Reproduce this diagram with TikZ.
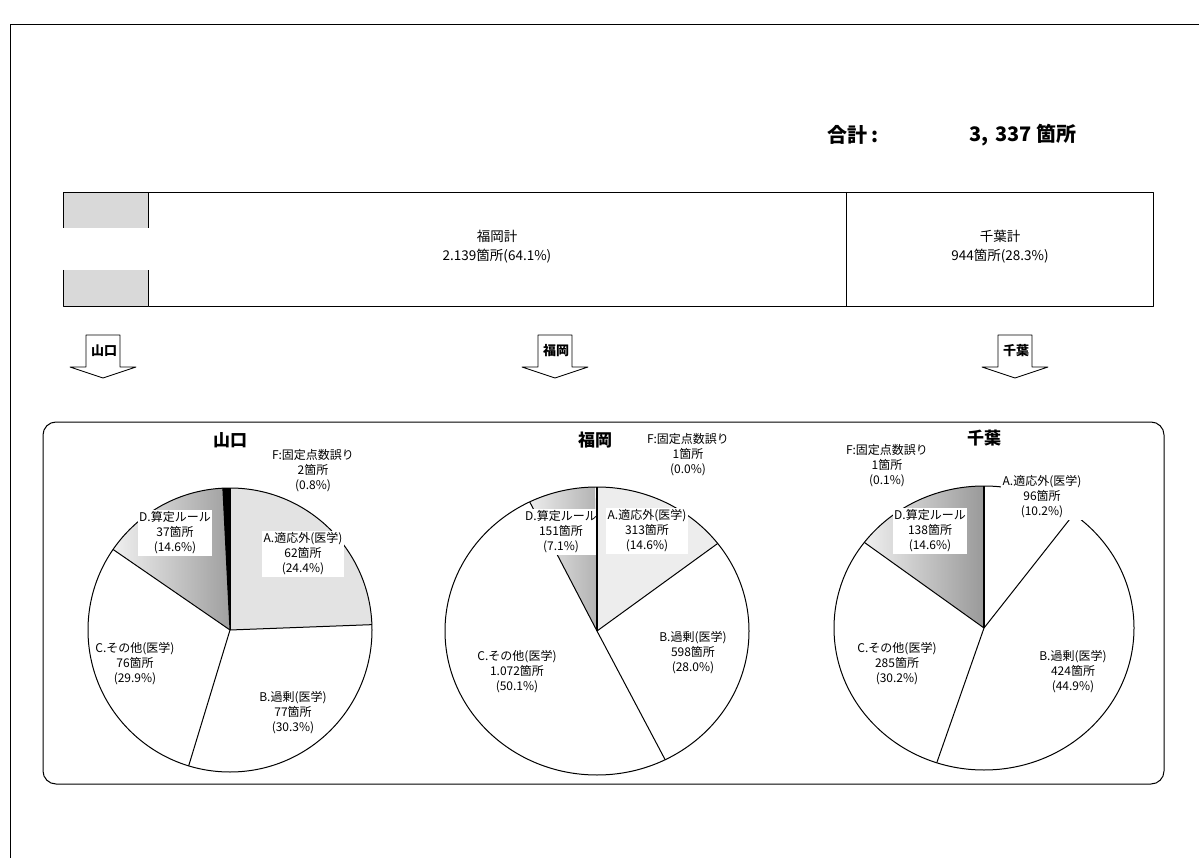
\documentclass[tikz,border=0pt]{standalone}
\usepackage{fontspec}
\setmainfont{Noto Sans CJK JP}
\begin{document}
\begin{tikzpicture}[x=1pt,y=-1pt,line join=round,
  lbl/.style={font=\fontsize{12}{15}\selectfont, align=center, inner sep=1.5pt},
  lblw/.style={lbl, fill=white},
  barlbl/.style={font=\fontsize{13.5}{19}\selectfont, align=center, inner sep=1pt},
  ttl/.style={font=\fontsize{17}{19}\selectfont\bfseries, inner sep=1pt},
  arrlbl/.style={font=\fontsize{13}{15}\selectfont\bfseries, inner sep=1pt},
  pieline/.style={draw=black, line width=1pt},
  blockarrow/.style={draw=black, line width=0.8pt, fill=white},
  totfont/.style={font=\fontsize{20}{22}\selectfont\bfseries, inner sep=1pt}
]
\useasboundingbox (0,0) rectangle (1199,858);
% outer frame
\draw[line width=0.8pt] (10,858) -- (10,24) -- (1199,24);

% total
\node[totfont, anchor=west] (totlbl) at (826,135) {合計 :};
\node[totfont, anchor=west] (totval) at (968,135) {3,\,\,337 箇所};

% bar
\fill[gray!30] (63,192) rectangle (148,228);
\fill[gray!30] (63,270) rectangle (148,306);
\draw[line width=0.9pt] (148,228) -- (148,192) -- (1153,192) -- (1153,306) -- (148,306) -- (148,270);
\draw[line width=0.9pt] (63,228) -- (63,192) -- (148,192);
\draw[line width=0.9pt] (63,270) -- (63,306) -- (148,306);
\draw[line width=0.9pt] (846,192) -- (846,306);
\node[barlbl] (fkbar) at (497,247) {福岡計\\2.139箇所(64.1\%)};
\node[barlbl] (cbbar) at (1000,247) {千葉計\\944箇所(28.3\%)};

% block arrows
\foreach \cx/\t/\n in {103/山口/ay,555/福岡/af,1015/千葉/ac}{
  \draw[blockarrow] (\cx-17,335) -- (\cx+17,335) -- (\cx+17,367) -- (\cx+33,367)
     -- (\cx,378) -- (\cx-33,367) -- (\cx-17,367) -- cycle;
  \node[arrlbl] (\n) at (\cx+1,351) {\t};
}

% container
\draw[line width=1pt, rounded corners=13pt] (43,422) rectangle (1164,784);

% ---------- Yamaguchi pie ----------
\begin{scope}[shift={(230,630)}, y=1pt]
  \fill[gray!22] (0,0) -- (90:142) arc[start angle=90, end angle=2.16, radius=142] -- cycle;
  \shade[left color=gray!12, right color=gray!75] (0,0) -- (145.44:142) arc[start angle=145.44, end angle=92.88, radius=142] -- cycle;
  \fill[black] (0,0) -- (92.88:142) arc[start angle=92.88, end angle=90, radius=142] -- cycle;
  \draw[pieline] (0,0) circle[radius=142];
  \foreach \a in {90,2.16,-106.92,145.44,92.88} \draw[pieline] (0,0) -- (\a:142);
\end{scope}
\node[ttl] (ty) at (230,440) {山口};
\node[lbl] (yF) at (313,471) {F:固定点数誤り\\2箇所\\(0.8\%)};
\node[lblw] (yD) at (175,533) {D.算定ルール\\37箇所\\(14.6\%)};
\node[lblw] (yA) at (303,554) {A.適応外(医学)\\62箇所\\(24.4\%)};
\node[lbl] (yC) at (135,664) {C.その他(医学)\\76箇所\\(29.9\%)};
\node[lbl] (yB) at (293,713) {B.過剰(医学)\\77箇所\\(30.3\%)};

% ---------- Fukuoka pie ----------
\begin{scope}[shift={(597,631)}, y=1pt]
  \fill[gray!14] (0,0) -- (90:152 and 144) arc[start angle=90, end angle=37.44, x radius=152, y radius=144] -- cycle;
  \shade[left color=gray!15, right color=gray!60] (0,0) -- (116.28:152 and 144) arc[start angle=116.28, end angle=90.72, x radius=152, y radius=144] -- cycle;
  \draw[pieline] (0,0) ellipse[x radius=152, y radius=144];
  \foreach \a in {37.44,-63.36,116.28} \draw[pieline] (0,0) -- (\a:152 and 144);
\end{scope}
\node[ttl] (tf) at (595,440) {福岡};
\node[lbl] (fF) at (688,455) {F:固定点数誤り\\1箇所\\(0.0\%)};
\node[lblw] (fD) at (561,532) {D.算定ルール\\151箇所\\(7.1\%)};
\node[lblw] (fA) at (647,531) {A.適応外(医学)\\313箇所\\(14.6\%)};
\node[lbl] (fB) at (693,653) {B.過剰(医学)\\598箇所\\(28.0\%)};
\node[lbl] (fC) at (517,672) {C.その他(医学)\\1.072箇所\\(50.1\%)};
\begin{scope}[shift={(597,631)}, y=1pt]
  \draw[black, line width=2.6pt] (0,0) -- (90:152 and 144);
\end{scope}

% ---------- Chiba pie ----------
\begin{scope}[shift={(984,628)}, y=1pt]
  \shade[left color=gray!12, right color=gray!80] (0,0) -- (142.92:150 and 142) arc[start angle=142.92, end angle=90.36, x radius=150, y radius=142] -- cycle;
  \draw[pieline] (0,0) ellipse[x radius=150, y radius=142];
  \foreach \a in {53.28,-108.36,142.92} \draw[pieline] (0,0) -- (\a:150 and 142);
  \draw[black, line width=2.6pt] (0,0) -- (90:150 and 142);
\end{scope}
\node[ttl] (tc) at (984,438) {千葉};
\node[lbl] (cF) at (887,466) {F:固定点数誤り\\1箇所\\(0.1\%)};
\node[lblw] (cA) at (1042,497) {A.適応外(医学)\\96箇所\\(10.2\%)};
\node[lblw] (cD) at (930,531) {D.算定ルール\\138箇所\\(14.6\%)};
\node[lbl] (cC) at (897,664) {C.その他(医学)\\285箇所\\(30.2\%)};
\node[lbl] (cB) at (1073,672) {B.過剰(医学)\\424箇所\\(44.9\%)};
\end{tikzpicture}
\end{document}
